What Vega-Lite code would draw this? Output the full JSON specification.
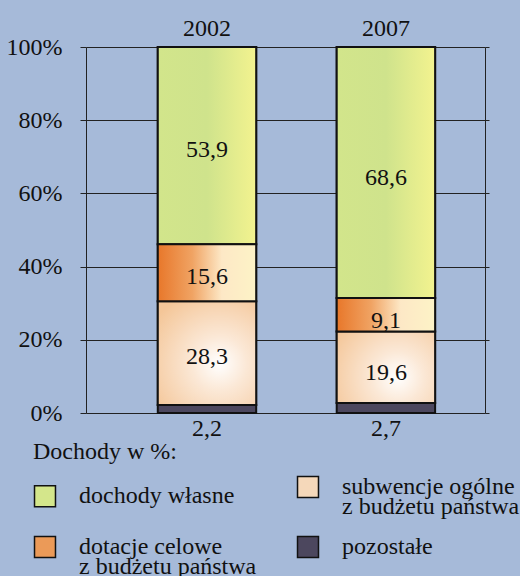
{
  "$schema": "https://vega.github.io/schema/vega-lite/v6.json",
  "width": 399,
  "height": 366,
  "autosize": "none",
  "padding": {"left": 86, "top": 47, "right": 35, "bottom": 163},
  "background": "#a6bad9",
  "config": {
    "view": {"stroke": null},
    "font": "Liberation Serif",
    "text": {"font": "Liberation Serif"},
    "axis": {"labelFont": "Liberation Serif", "titleFont": "Liberation Serif"},
    "legend": {"labelFont": "Liberation Serif", "titleFont": "Liberation Serif"},
    "locale": {"number": {"decimal": ",", "thousands": " ", "grouping": [3], "currency": ["", " zł"]}}
  },
  "data": {
    "values": [
      {"rok": "2002", "kategoria": "pozostałe", "wartosc": 2.2, "kolejnosc": 1},
      {"rok": "2002", "kategoria": "subwencje ogólne z budżetu państwa", "wartosc": 28.3, "kolejnosc": 2},
      {"rok": "2002", "kategoria": "dotacje celowe z budżetu państwa", "wartosc": 15.6, "kolejnosc": 3},
      {"rok": "2002", "kategoria": "dochody własne", "wartosc": 53.9, "kolejnosc": 4},
      {"rok": "2007", "kategoria": "pozostałe", "wartosc": 2.7, "kolejnosc": 1},
      {"rok": "2007", "kategoria": "subwencje ogólne z budżetu państwa", "wartosc": 19.6, "kolejnosc": 2},
      {"rok": "2007", "kategoria": "dotacje celowe z budżetu państwa", "wartosc": 9.1, "kolejnosc": 3},
      {"rok": "2007", "kategoria": "dochody własne", "wartosc": 68.6, "kolejnosc": 4}
    ]
  },
  "resolve": {"axis": {"y": "independent"}},
  "layer": [
    {
      "mark": {"type": "bar", "stroke": "#111111", "strokeWidth": 2, "opacity": 1},
      "encoding": {
        "x": {
          "field": "rok", "type": "nominal", "title": null,
          "scale": {"paddingInner": 0.45, "paddingOuter": 0.34, "align": 0.59},
          "axis": {"orient": "top", "domain": false, "ticks": false, "labelAngle": 0, "labelFont": "Liberation Serif", "labelFontSize": 24, "labelColor": "#111111", "labelPadding": 7}
        },
        "y": {
          "field": "wartosc", "type": "quantitative", "stack": "zero", "title": null,
          "scale": {"domain": [0, 100]},
          "axis": {"values": [0, 20, 40, 60, 80, 100], "labelExpr": "datum.value + '%'", "labelFont": "Liberation Serif", "labelFontSize": 24, "labelColor": "#111111", "labelPadding": 18, "tickSize": 6, "tickColor": "#222222", "domainColor": "#222222", "gridColor": "#222222", "gridOpacity": 1, "grid": true, "zindex": 0}
        },
        "order": {"field": "kolejnosc", "type": "quantitative"},
        "color": {
          "field": "kategoria", "type": "nominal",
          "scale": {
            "domain": ["dochody własne", "subwencje ogólne z budżetu państwa", "dotacje celowe z budżetu państwa", "pozostałe"],
            "range": ["#d4e68b", "#f5d8ba", "#eb9a58", "#4c475e"]
          },
          "legend": {
            "orient": "none", "legendX": -53, "legendY": 393, "direction": "horizontal", "columns": 2,
            "title": "Dochody w %:", "titleFont": "Liberation Serif", "titleFontSize": 24, "titleFontWeight": "normal", "titleColor": "#111111", "titlePadding": 11, "titleLimit": 400,
            "symbolType": "square", "symbolSize": 440, "symbolStrokeColor": "#111111", "symbolStrokeWidth": 1.5, "symbolOpacity": 1,
            "labelFont": "Liberation Serif", "labelFontSize": 24, "labelColor": "#111111", "labelOffset": 22, "labelLimit": 400,
            "columnPadding": 37, "rowPadding": 14,
            "labelExpr": "split(replace(datum.label, ' z b', '|z b'), '|')",
            "encoding": {"labels": {"lineHeight": {"value": 20}}}
          }
        }
      }
    },
    {
      "transform": [
        {"stack": "wartosc", "groupby": ["rok"], "sort": [{"field": "kolejnosc", "order": "ascending"}], "as": ["y0", "y1"]},
        {"filter": "datum.kategoria == 'dochody własne'"}
      ],
      "mark": {"type": "bar", "stroke": "#111111", "strokeWidth": 2, "fill": {"gradient": "linear", "x1": 0, "y1": 0, "x2": 1, "y2": 0, "stops": [{"offset": 0, "color": "#d2e58b"}, {"offset": 0.5, "color": "#cfe38c"}, {"offset": 1, "color": "#f3f38f"}]}},
      "encoding": {
        "x": {"field": "rok", "type": "nominal"},
        "y": {"field": "y1", "type": "quantitative", "axis": null},
        "y2": {"field": "y0"}
      }
    },
    {
      "transform": [
        {"stack": "wartosc", "groupby": ["rok"], "sort": [{"field": "kolejnosc", "order": "ascending"}], "as": ["y0", "y1"]},
        {"filter": "datum.kategoria == 'subwencje ogólne z budżetu państwa'"}
      ],
      "mark": {"type": "bar", "stroke": "#111111", "strokeWidth": 2, "fill": {"gradient": "radial", "x1": 0.62, "y1": 0.6, "r1": 0, "x2": 0.62, "y2": 0.6, "r2": 0.75, "stops": [{"offset": 0, "color": "#ffffff"}, {"offset": 0.35, "color": "#fbe8d6"}, {"offset": 1, "color": "#f4c698"}]}},
      "encoding": {
        "x": {"field": "rok", "type": "nominal"},
        "y": {"field": "y1", "type": "quantitative", "axis": null},
        "y2": {"field": "y0"}
      }
    },
    {
      "transform": [
        {"stack": "wartosc", "groupby": ["rok"], "sort": [{"field": "kolejnosc", "order": "ascending"}], "as": ["y0", "y1"]},
        {"filter": "datum.kategoria == 'dotacje celowe z budżetu państwa'"}
      ],
      "mark": {"type": "bar", "stroke": "#111111", "strokeWidth": 2, "fill": {"gradient": "linear", "x1": 0, "y1": 0, "x2": 1, "y2": 0, "stops": [{"offset": 0, "color": "#e8772a"}, {"offset": 0.35, "color": "#f0a363"}, {"offset": 0.65, "color": "#fde8c6"}, {"offset": 1, "color": "#fdf3c6"}]}},
      "encoding": {
        "x": {"field": "rok", "type": "nominal"},
        "y": {"field": "y1", "type": "quantitative", "axis": null},
        "y2": {"field": "y0"}
      }
    },
    {
      "transform": [{"filter": "datum.kategoria != 'pozostałe'"}],
      "mark": {"type": "text", "font": "Liberation Serif", "fontSize": 24, "color": "#111111", "dy": -4},
      "encoding": {
        "x": {"field": "rok", "type": "nominal"},
        "y": {"field": "wartosc", "type": "quantitative", "stack": "zero", "bandPosition": 0.5, "axis": null},
        "order": {"field": "kolejnosc", "type": "quantitative"},
        "text": {"field": "wartosc", "type": "quantitative", "format": ".1f"}
      }
    },
    {
      "transform": [{"filter": "datum.kategoria == 'pozostałe'"}],
      "mark": {"type": "text", "font": "Liberation Serif", "fontSize": 24, "color": "#111111", "baseline": "top", "dy": 4},
      "encoding": {
        "x": {"field": "rok", "type": "nominal"},
        "y": {"datum": 0, "type": "quantitative", "axis": {"orient": "right", "labels": false, "ticks": true, "tickSize": 4, "tickColor": "#222222", "values": [0, 20, 40, 60, 80, 100], "grid": false, "domainColor": "#222222", "title": null}},
        "text": {"field": "wartosc", "type": "quantitative", "format": ".1f"}
      }
    }
  ]
}
